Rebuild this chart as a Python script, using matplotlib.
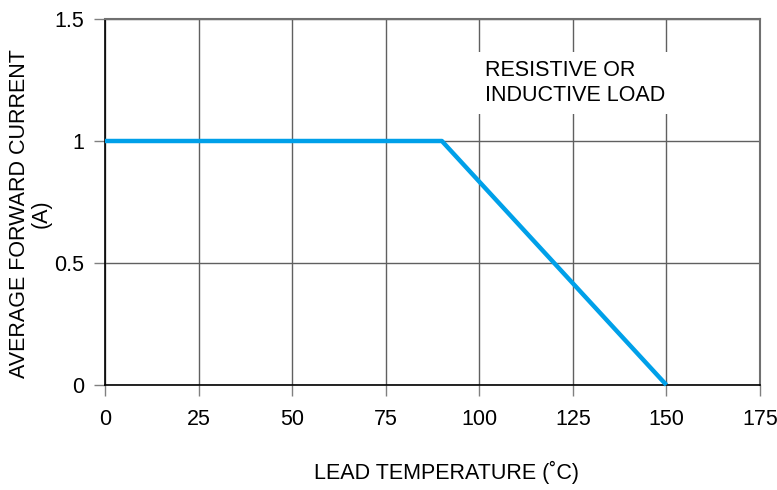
import matplotlib
matplotlib.use("Agg")
import matplotlib.pyplot as plt

plt.rcParams['font.family'] = ['Liberation Sans', 'DejaVu Sans']

temps = [0, 90, 150]
current = [1.0, 1.0, 0.0]
xticks = [0, 25, 50, 75, 100, 125, 150, 175]
yticks = [0, 0.5, 1, 1.5]
ytick_labels = ["0", "0.5", "1", "1.5"]

fig = plt.figure(figsize=(7.77, 4.90), dpi=100)
ax = fig.add_axes([105/777, 1 - 385/490, (760-105)/777, (385-19)/490])

ax.set_xlim(0, 175)
ax.set_ylim(0, 1.5)
ax.set_xticks(xticks)
ax.set_yticks(yticks)
ax.set_yticklabels(ytick_labels)
ax.grid(True, color='#606060', linewidth=1.0)
ax.set_axisbelow(True)
ax.tick_params(axis='both', length=8, width=1.0, color='#808080', labelsize=15.5)
ax.tick_params(axis='x', pad=9)
ax.tick_params(axis='y', pad=7)

for s in ['top', 'right']:
    ax.spines[s].set_color('#707070')
    ax.spines[s].set_linewidth(1.5)
for s in ['left', 'bottom']:
    ax.spines[s].set_color('black')
    ax.spines[s].set_linewidth(1.2)

ax.plot(temps, current, color='#00A0E9', linewidth=3.2, solid_capstyle='butt', clip_on=False, zorder=3)

ax.text(101.5, 1.238, "RESISTIVE OR\nINDUCTIVE LOAD", fontsize=15.5, ha='left', va='center',
        linespacing=1.2,
        bbox=dict(facecolor='white', edgecolor='none', pad=6), zorder=4)

ax.set_xlabel("LEAD TEMPERATURE (˚C)", fontsize=15.5)
ax.xaxis.set_label_coords((447-105)/655, -(461-385)/366, transform=ax.transAxes)
ax.set_ylabel("AVERAGE FORWARD CURRENT\n(A)", fontsize=15.5, linespacing=1.05)
ax.yaxis.set_label_coords(-(105-52)/655, (385-214)/366, transform=ax.transAxes)

fig.savefig("out.png", dpi=100)
